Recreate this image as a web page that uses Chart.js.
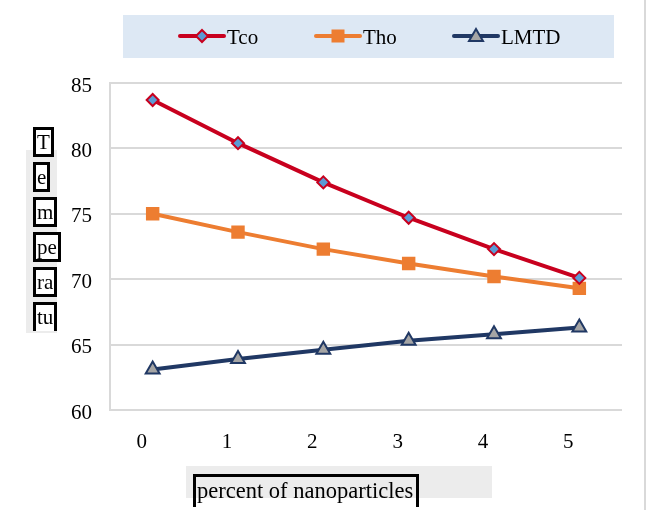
<!DOCTYPE html>
<html>
<head>
<meta charset="utf-8">
<script src="https://cdn.jsdelivr.net/npm/chart.js@4/dist/chart.umd.min.js"></script>
<style>
  body { margin: 0; background: #fff; }
  #wrap { position: relative; width: 646px; height: 510px; overflow: hidden; }
  #wrap canvas { position: absolute; left: 0; top: 0; }
  .lbl { position: absolute; font-family: "Liberation Serif", serif; color: #000; }
  .ybox { border: 3px solid #000; font-size: 21px; line-height: 24px; padding: 0 1px; background: #fff; }
  .bg { position: absolute; background: #ececec; }
</style>
</head>
<body>
<div id="wrap">
  <canvas id="chart" width="646" height="510"></canvas>
  <div class="bg" style="left:26px;top:150px;width:31px;height:183px;"></div>
  <div class="lbl ybox" style="left:33px;top:127px;">T</div>
  <div class="lbl ybox" style="left:33px;top:162px;">e</div>
  <div class="lbl ybox" style="left:33px;top:197px;">m</div>
  <div class="lbl ybox" style="left:33px;top:232px;">pe</div>
  <div class="lbl ybox" style="left:33px;top:267px;">ra</div>
  <div class="lbl ybox" style="left:33px;top:302px;height:26px;border-bottom:none;overflow:hidden;">tu</div>
  <div class="bg" style="left:186px;top:466px;width:306px;height:32px;"></div>
  <div class="lbl" style="left:193px;top:474px;width:219px;height:30px;border:3px solid #000;border-bottom:none;font-size:22.5px;line-height:28px;padding-left:1px;white-space:nowrap;">percent of nanoparticles</div>
</div>
<script>
const categories = ['0', '1', '2', '3', '4', '5'];
const tco = [83.7, 80.4, 77.4, 74.7, 72.3, 70.1];
const tho = [75.0, 73.6, 72.3, 71.2, 70.2, 69.3];
const lmtd = [63.1, 63.9, 64.6, 65.3, 65.8, 66.3];
const yTicks = [60, 65, 70, 75, 80, 85];

const serif = '"Liberation Serif", serif';

function drawMarker(ctx, style, x, y, r, fill, stroke) {
  ctx.save();
  ctx.fillStyle = fill;
  ctx.strokeStyle = stroke;
  ctx.lineWidth = 2;
  ctx.beginPath();
  if (style === 'rectRot') {
    ctx.moveTo(x, y - r); ctx.lineTo(x + r, y); ctx.lineTo(x, y + r); ctx.lineTo(x - r, y);
  } else if (style === 'rect') {
    ctx.rect(x - r, y - r, 2 * r, 2 * r);
  } else {
    ctx.moveTo(x, y - r); ctx.lineTo(x + r, y + r * 0.7); ctx.lineTo(x - r, y + r * 0.7);
  }
  ctx.closePath();
  ctx.fill();
  if (style !== 'rect') ctx.stroke();
  ctx.restore();
}

// legend box at top plus the thin outer border line on the right
const extras = {
  id: 'extras',
  afterDraw(chart) {
    const ctx = chart.ctx;
    ctx.save();
    ctx.fillStyle = '#dde8f4';
    ctx.fillRect(123, 15, 491, 43);
    ctx.strokeStyle = '#d9d9d9';
    ctx.lineWidth = 2;
    ctx.beginPath(); ctx.moveTo(645, 0); ctx.lineTo(645, 510); ctx.stroke();
    const items = [
      { x: 180, label: 'Tco', color: '#c8001e', style: 'rectRot', fill: '#5b9bd5', r: 6 },
      { x: 316, label: 'Tho', color: '#ed7d31', style: 'rect', fill: '#ed7d31', r: 6.5 },
      { x: 454, label: 'LMTD', color: '#203864', style: 'triangle', fill: '#a5a5a5', r: 7 }
    ];
    const y = 36;
    items.forEach(it => {
      ctx.strokeStyle = it.color;
      ctx.lineWidth = 4;
      ctx.lineCap = 'round';
      ctx.beginPath(); ctx.moveTo(it.x, y); ctx.lineTo(it.x + 44, y); ctx.stroke();
      drawMarker(ctx, it.style, it.x + 22, y, it.r, it.fill, it.color);
      ctx.fillStyle = '#000';
      ctx.font = '21px ' + serif;
      ctx.textBaseline = 'middle';
      ctx.fillText(it.label, it.x + 47, y + 2);
    });
    ctx.restore();
  }
};

new Chart(document.getElementById('chart'), {
  type: 'line',
  data: {
    labels: categories,
    datasets: [
      {
        label: 'Tco', data: tco,
        borderColor: '#c8001e', borderWidth: 4,
        pointStyle: 'rectRot', pointRadius: 6, pointBorderWidth: 2,
        pointBackgroundColor: '#5b9bd5', pointBorderColor: '#c8001e'
      },
      {
        label: 'Tho', data: tho,
        borderColor: '#ed7d31', borderWidth: 4,
        pointStyle: 'rect', pointRadius: 9.5, pointBorderWidth: 0,
        pointBackgroundColor: '#ed7d31', pointBorderColor: '#ed7d31'
      },
      {
        label: 'LMTD', data: lmtd,
        borderColor: '#203864', borderWidth: 4,
        pointStyle: 'triangle', pointRadius: 8, pointBorderWidth: 2,
        pointBackgroundColor: '#a5a5a5', pointBorderColor: '#203864'
      }
    ]
  },
  options: {
    responsive: false,
    animation: false,
    layout: { padding: { left: 0, right: 24, top: 83, bottom: 0 } },
    plugins: { legend: { display: false }, tooltip: { enabled: false } },
    scales: {
      x: {
        offset: true,
        grid: { display: false, drawTicks: false },
        border: { display: false },
        ticks: { color: '#000', font: { family: serif, size: 21 }, padding: 20, labelOffset: -11 },
        afterFit(s) { s.height = 100; }
      },
      y: {
        min: 60, max: 85,
        afterBuildTicks(s) { s.ticks = yTicks.map(v => ({ value: v })); },
        grid: { color: '#d9d9d9', lineWidth: 2, drawTicks: false },
        border: { display: true, color: '#d9d9d9', width: 2 },
        ticks: { color: '#000', font: { family: serif, size: 21 }, padding: 18, labelOffset: 3 },
        afterFit(s) { s.width = 110; }
      }
    }
  },
  plugins: [extras]
});
</script>
</body>
</html>
